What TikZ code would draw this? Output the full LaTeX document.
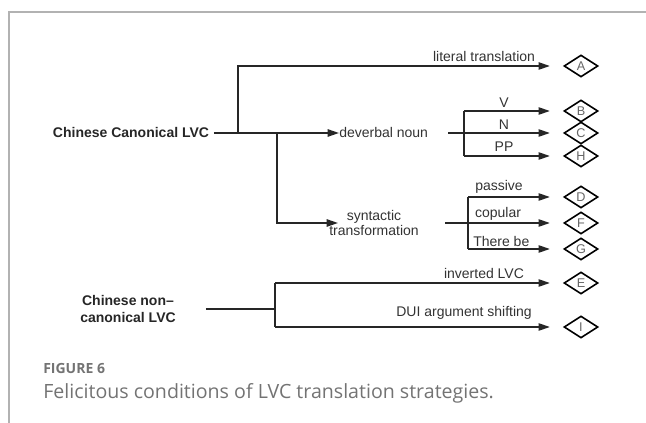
\documentclass[tikz,border=0pt]{standalone}
\usepackage{fontspec}
\setmainfont{Liberation Sans}
\newfontfamily\capfont{Open Sans}
\usetikzlibrary{arrows.meta,shapes.geometric}

\begin{document}
\begin{tikzpicture}[x=0.75pt,y=0.75pt,yscale=-1,xscale=1,
  conn/.style={line width=1.2pt,color=black!85},
  stub/.style={line width=1.7pt,color=black!85},
  tip/.style={-{Triangle[length=8.5pt,width=5.5pt]}},
  gap/.style={shorten >=10pt},
  lbl/.style={font=\fontsize{10.5}{11.5}\selectfont,inner sep=0pt,color=black!80},
  head/.style={font=\bfseries\fontsize{10.5}{12.6}\selectfont,align=center,color=black!85},
  tgt/.style={draw,shape=diamond,line width=1.2pt,minimum width=25.5pt,minimum height=16.5pt,inner sep=0pt,aspect=1.6,font=\fontsize{9.5}{9.5}\selectfont,text=black!60}]
\useasboundingbox (0,0) rectangle (646,423);

%Frame
\draw [color=black!30,line width=1.1pt] (646,12) -- (9,12) -- (9,423) ;

%Shape: Diamonds
\foreach \l/\y in {A/66,B/111,C/133,H/156,D/197,F/223,G/249,E/283,I/327}
  \node [tgt] (t\l) at (581,\y) {\l};

% Text Node
\node [head] (canon) at (131,133) {Chinese Canonical LVC};
% Text Node
\node [head] (noncanon) at (128,309) {Chinese non--\\canonical LVC};
% Text Node
\node [lbl,anchor=west] (dev) at (339,133) {deverbal noun};
% Text Node
\node [lbl,align=center] (syn) at (374,223) {syntactic\\transformation};

%Junctions
\coordinate (j1) at (238,133);
\coordinate (j2) at (277,133);
\coordinate (j3) at (464,133);
\coordinate (j4) at (468,223);
\coordinate (j5) at (275,309);

%Straight Lines
\draw [stub] (canon.east) -- (j1) ;
\draw [conn,tip,gap] (j1) |- (tA.west) ;
\draw [conn,tip] (j1) -- (dev.west) ;
\draw [conn,tip] (j2) |- ([xshift=6.75pt]syn.west) ;

%Straight Lines
\draw [stub] ([xshift=15pt]dev.east) -- (j3) ;
\draw [conn] (j3|-tB) -- (j3|-tH) ;
\draw [conn,tip,gap] (j3|-tB) -- (tB.west) ;
\draw [conn,tip,gap] (j3) -- (tC.west) ;
\draw [conn,tip,gap] (j3|-tH) -- (tH.west) ;

%Straight Lines
\draw [stub] ([xshift=19.5pt]syn.east) -- (j4) ;
\draw [conn] (j4|-tD) -- (j4|-tG) ;
\draw [conn,tip,gap] (j4|-tD) -- (tD.west) ;
\draw [conn,tip,gap] (j4) -- (tF.west) ;
\draw [conn,tip,gap] (j4|-tG) -- (tG.west) ;

%Straight Lines
\draw [conn] ([xshift=19pt]noncanon.east) -- (j5) ;
\draw [conn] (j5|-tE) -- (j5|-tI) ;
\draw [conn,tip,gap] (j5|-tE) -- (tE.west) ;
\draw [conn,tip,gap] (j5|-tI) -- (tI.west) ;

% Text Node
\node [lbl] (lLit) at (484,57) {literal translation};
\node [lbl] (lV) at (504,103) {V};
\node [lbl] (lN) at (504,125) {N};
\node [lbl] (lPP) at (504,147) {PP};
\node [lbl] (lPas) at (499,187) {passive};
\node [lbl] (lCop) at (498,214) {copular};
\node [lbl,anchor=west] (lThe) at (473,241) {There be};
\node [lbl] (lInv) at (484,273) {inverted LVC};
\node [lbl,anchor=east] (lDui) at (532,313) {DUI argument shifting};

% Caption
\node [anchor=west,inner sep=0pt,font=\capfont\bfseries\fontsize{10.5}{12}\selectfont,color=black!55] (fig) at (43,369) {FIGURE 6};
\node [anchor=west,inner sep=0pt,font=\capfont\fontsize{14.7}{17}\selectfont,color=black!55] (cap) at (43,393) {Felicitous conditions of LVC translation strategies.};

\end{tikzpicture}
\end{document}
